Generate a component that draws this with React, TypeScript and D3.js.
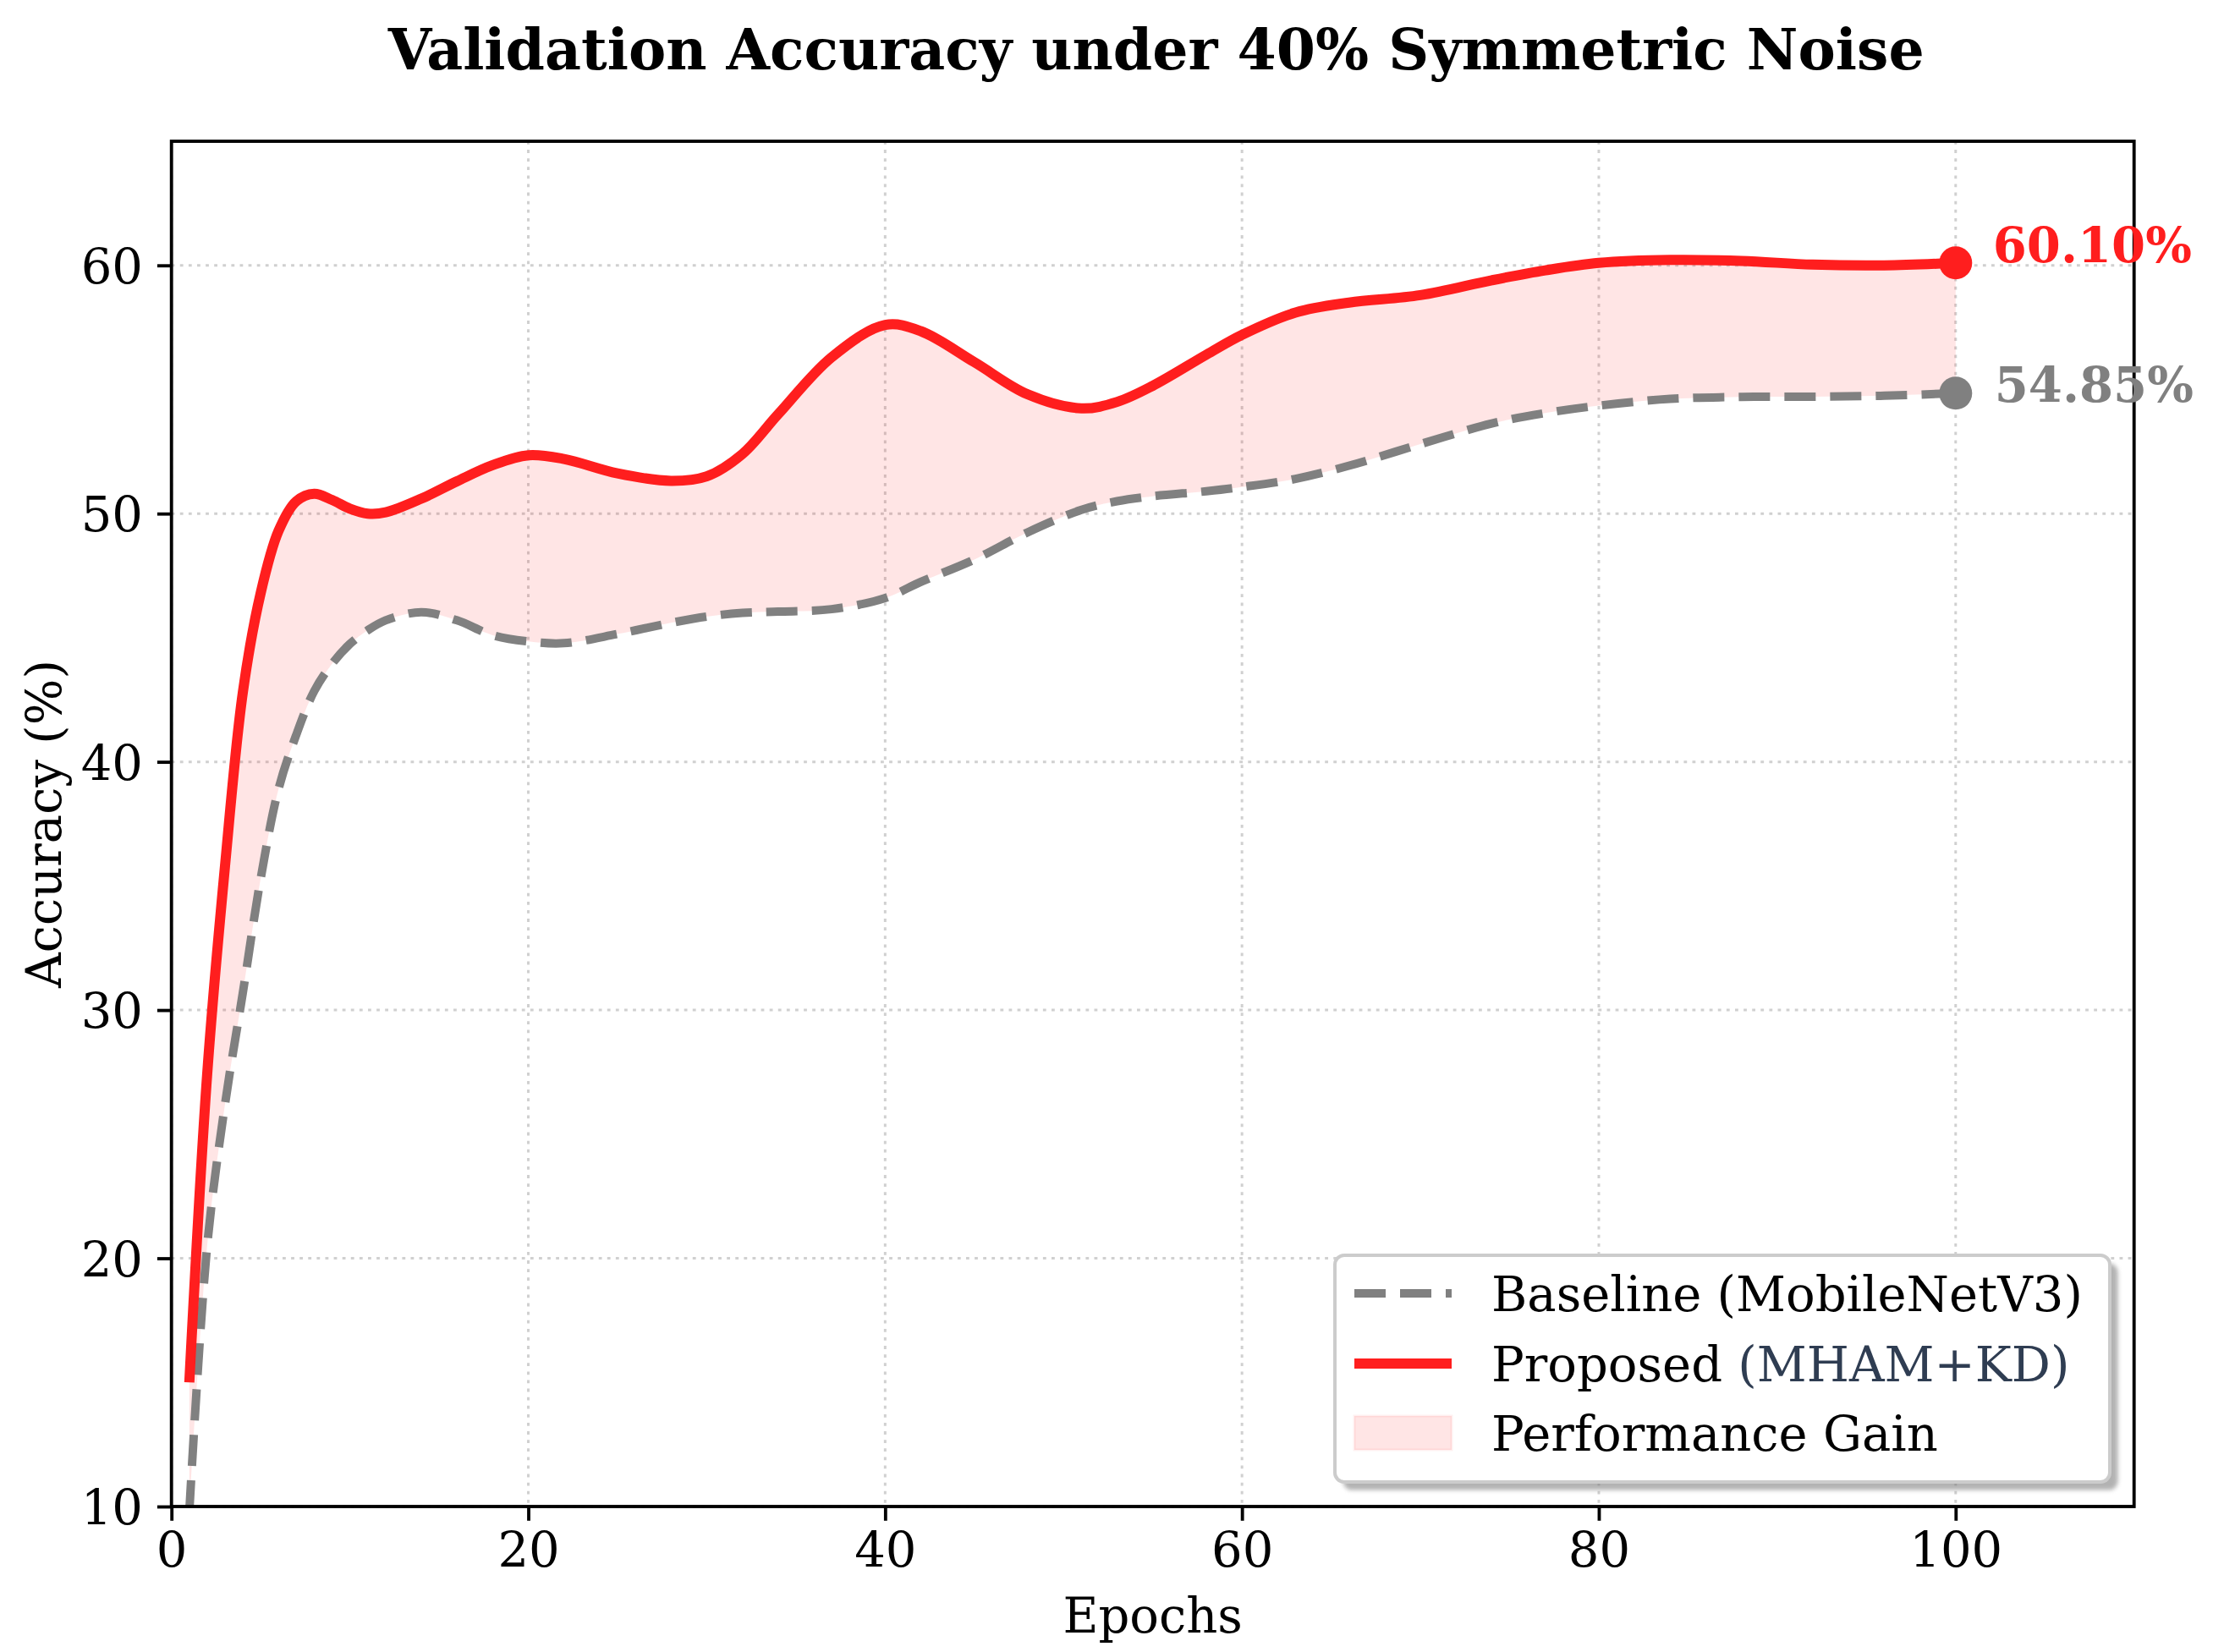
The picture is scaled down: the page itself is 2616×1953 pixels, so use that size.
import * as d3 from "d3";
import { useEffect, useRef } from "react";

const epochs = [
  1, 2, 3, 4, 5, 6, 7, 8, 9, 10, 11, 12, 14, 16, 18, 20, 22, 25, 28, 30, 32, 34, 37, 40, 42, 45,
  48, 51, 53, 55, 58, 60, 63, 66, 70, 74, 77, 80, 84, 88, 92, 96, 100,
];
const baselineAcc = [
  9.8, 20.5, 26.2, 30.7, 35.3, 38.9, 41.1, 42.85, 43.95, 44.75, 45.3, 45.7, 46.03, 45.7, 45.1, 44.85,
  44.78, 45.15, 45.6, 45.85, 46.0, 46.05, 46.15, 46.6, 47.25, 48.15, 49.25, 50.15, 50.5, 50.7, 50.9,
  51.07, 51.4, 51.93, 52.8, 53.63, 54.05, 54.35, 54.62, 54.7, 54.71, 54.75, 54.85,
];
const proposedAcc = [
  15.0, 27.4, 35.8, 42.8, 46.8, 49.3, 50.5, 50.8, 50.55, 50.2, 50.0, 50.05, 50.6, 51.3, 51.95, 52.35,
  52.2, 51.62, 51.32, 51.5, 52.4, 54.0, 56.3, 57.6, 57.35, 56.1, 54.8, 54.24, 54.5, 55.15, 56.4, 57.2,
  58.1, 58.5, 58.8, 59.4, 59.8, 60.1, 60.22, 60.18, 60.03, 60.0, 60.1,
];
const xTicks = [0, 20, 40, 60, 80, 100];
const yTicks = [10, 20, 30, 40, 50, 60];
const legendLabels = ["Baseline (MobileNetV3)", "Proposed", "(MHAM+KD)", "Performance Gain"];

type Pt = { e: number; b: number; p: number };

export default function App() {
  const ref = useRef<SVGSVGElement>(null);

  useEffect(() => {
    if (!ref.current) return;
    document.body.style.margin = "0";
    const svg = d3.select(ref.current);
    svg.selectAll("*").remove();

    const font = "DejaVu Serif";
    const fs = 57.6;
    const red = "#ff1e1e";
    const gray = "#808080";
    const left = 202.7;
    const right = 2522.7;
    const top = 167;
    const bottom = 1781;

    const x = d3.scaleLinear().domain([0, 110]).range([left, right]);
    const y = d3.scaleLinear().domain([10, 65]).range([bottom, top]);
    const data: Pt[] = epochs.map((e, i) => ({ e, b: baselineAcc[i], p: proposedAcc[i] }));
    const curve = d3.curveCatmullRom.alpha(0.5);

    const defs = svg.append("defs");
    defs
      .append("clipPath")
      .attr("id", "plot")
      .append("rect")
      .attr("x", left)
      .attr("y", top)
      .attr("width", right - left)
      .attr("height", bottom - top);
    defs
      .append("filter")
      .attr("id", "blur")
      .append("feGaussianBlur")
      .attr("stdDeviation", 2.5);

    // grid
    const grid = svg
      .append("g")
      .attr("stroke", "#b0b0b0")
      .attr("stroke-opacity", 0.6)
      .attr("stroke-width", 3)
      .attr("stroke-dasharray", "3.8 6.3");
    grid
      .selectAll("line.v")
      .data(xTicks)
      .join("line")
      .attr("x1", (d) => x(d))
      .attr("x2", (d) => x(d))
      .attr("y1", top)
      .attr("y2", bottom);
    grid
      .selectAll("line.h")
      .data(yTicks)
      .join("line")
      .attr("x1", left)
      .attr("x2", right)
      .attr("y1", (d) => y(d))
      .attr("y2", (d) => y(d));

    const plot = svg.append("g").attr("clip-path", "url(#plot)");

    const area = d3
      .area<Pt>()
      .x((d) => x(d.e))
      .y0((d) => y(d.b))
      .y1((d) => y(d.p))
      .curve(curve);
    plot.append("path").datum(data).attr("fill", "rgba(255,0,0,0.1)").attr("d", area);

    const lineB = d3.line<Pt>().x((d) => x(d.e)).y((d) => y(d.b)).curve(curve);
    const lineP = d3.line<Pt>().x((d) => x(d.e)).y((d) => y(d.p)).curve(curve);

    plot
      .append("path")
      .datum(data)
      .attr("fill", "none")
      .attr("stroke", gray)
      .attr("stroke-width", 10)
      .attr("stroke-dasharray", "37 17")
      .attr("d", lineB);
    plot
      .append("path")
      .datum(data)
      .attr("fill", "none")
      .attr("stroke", red)
      .attr("stroke-width", 12)
      .attr("stroke-linejoin", "round")
      .attr("d", lineP);

    const last = data[data.length - 1];
    svg.append("circle").attr("cx", x(last.e)).attr("cy", y(last.p)).attr("r", 19.5).attr("fill", red);
    svg.append("circle").attr("cx", x(last.e)).attr("cy", y(last.b)).attr("r", 19.5).attr("fill", gray);

    // axes
    svg
      .append("g")
      .attr("transform", `translate(0,${bottom})`)
      .call(d3.axisBottom(x).tickValues(xTicks).tickSize(16.8).tickSizeOuter(0).tickPadding(13.3))
      .call((g) => g.select(".domain").remove())
      .call((g) => g.selectAll("line").attr("stroke", "#000").attr("stroke-width", 3.84))
      .call((g) => g.selectAll("text").attr("font-family", font).attr("font-size", fs).attr("fill", "#000"));
    svg
      .append("g")
      .attr("transform", `translate(${left},0)`)
      .call(d3.axisLeft(y).tickValues(yTicks).tickSize(16.8).tickSizeOuter(0).tickPadding(16.9))
      .call((g) => g.select(".domain").remove())
      .call((g) => g.selectAll("line").attr("stroke", "#000").attr("stroke-width", 3.84))
      .call((g) =>
        g.selectAll("text").attr("font-family", font).attr("font-size", fs).attr("fill", "#000").attr("dy", "0.36em")
      );

    svg
      .append("rect")
      .attr("x", left)
      .attr("y", top)
      .attr("width", right - left)
      .attr("height", bottom - top)
      .attr("fill", "none")
      .attr("stroke", "#000")
      .attr("stroke-width", 3.84);

    // labels
    svg
      .append("text")
      .attr("x", (left + right) / 2 + 4)
      .attr("y", 82)
      .attr("text-anchor", "middle")
      .attr("font-family", font)
      .attr("font-weight", "bold")
      .attr("font-size", 66.4)
      .text("Validation Accuracy under 40% Symmetric Noise");
    svg
      .append("text")
      .attr("x", (left + right) / 2)
      .attr("y", 1930)
      .attr("text-anchor", "middle")
      .attr("font-family", font)
      .attr("font-size", fs)
      .text("Epochs");
    svg
      .append("text")
      .attr("transform", `translate(72,${(top + bottom) / 2}) rotate(-90)`)
      .attr("text-anchor", "middle")
      .attr("font-family", font)
      .attr("font-size", fs)
      .text("Accuracy (%)");

    // end annotations
    svg
      .append("text")
      .attr("x", x(last.e) + 44)
      .attr("y", y(last.p) - 1)
      .attr("font-family", font)
      .attr("font-weight", "bold")
      .attr("font-size", fs)
      .attr("fill", red)
      .text(`${last.p.toFixed(2)}%`);
    svg
      .append("text")
      .attr("x", x(last.e) + 46)
      .attr("y", y(last.b) + 10)
      .attr("font-family", font)
      .attr("font-weight", "bold")
      .attr("font-size", fs)
      .attr("fill", gray)
      .text(`${last.b.toFixed(2)}%`);

    // legend
    const lx = 1578;
    const ly = 1484;
    const lw = 916;
    const lh = 268;
    const lg = svg.append("g");
    lg.append("rect")
      .attr("x", lx + 9.6)
      .attr("y", ly + 9.6)
      .attr("width", lw)
      .attr("height", lh)
      .attr("rx", 11)
      .attr("fill", "#808080")
      .attr("opacity", 0.6)
      .attr("filter", "url(#blur)");
    lg.append("rect")
      .attr("x", lx)
      .attr("y", ly)
      .attr("width", lw)
      .attr("height", lh)
      .attr("rx", 11)
      .attr("fill", "#fff")
      .attr("stroke", "#cccccc")
      .attr("stroke-width", 4);

    const rows = [1529, 1612, 1694];
    const hx0 = 1601;
    const hx1 = 1716;
    const tx = 1763;
    lg.append("line")
      .attr("x1", hx0)
      .attr("x2", hx1)
      .attr("y1", rows[0])
      .attr("y2", rows[0])
      .attr("stroke", gray)
      .attr("stroke-width", 10)
      .attr("stroke-dasharray", "37 17");
    lg.append("line")
      .attr("x1", hx0)
      .attr("x2", hx1)
      .attr("y1", rows[1])
      .attr("y2", rows[1])
      .attr("stroke", red)
      .attr("stroke-width", 12);
    lg.append("rect")
      .attr("x", hx0)
      .attr("y", rows[2] - 20)
      .attr("width", hx1 - hx0)
      .attr("height", 40)
      .attr("fill", "rgba(255,0,0,0.1)")
      .attr("stroke", "rgba(255,0,0,0.06)")
      .attr("stroke-width", 3);

    const t = lg.append("g").attr("font-family", font).attr("font-size", fs).attr("fill", "#000");
    t.append("text").attr("x", tx).attr("y", rows[0] + 21).text(legendLabels[0]);
    const t2 = t.append("text").attr("x", tx).attr("y", rows[1] + 21);
    t2.append("tspan").text(legendLabels[1] + " ");
    t2.append("tspan").attr("fill", "#2f3d52").text(legendLabels[2]);
    t.append("text").attr("x", tx).attr("y", rows[2] + 21).text(legendLabels[3]);
  }, []);

  return <svg ref={ref} width={2616} height={1953} style={{ display: "block", background: "#fff" }} />;
}
